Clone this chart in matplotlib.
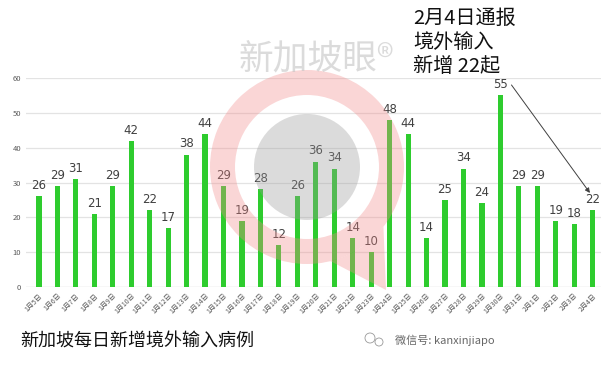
import matplotlib
matplotlib.use("Agg")
import matplotlib.pyplot as plt
import numpy as np
from matplotlib.patches import Wedge, Circle, Polygon

plt.rcParams['font.family'] = ['Noto Sans CJK SC', 'DejaVu Sans']

dates = ['1月5日', '1月6日', '1月7日', '1月8日', '1月9日', '1月10日', '1月11日',
         '1月12日', '1月13日', '1月14日', '1月15日', '1月16日', '1月17日', '1月18日',
         '1月19日', '1月20日', '1月21日', '1月22日', '1月23日', '1月24日', '1月25日',
         '1月26日', '1月27日', '1月28日', '1月29日', '1月30日', '1月31日', '2月1日',
         '2月2日', '2月3日', '2月4日']
cases = [26, 29, 31, 21, 29, 42, 22, 17, 38, 44, 29, 19, 28, 12, 26, 36,
         34, 14, 10, 48, 44, 14, 25, 34, 24, 55, 29, 29, 19, 18, 22]
yticks = [0, 10, 20, 30, 40, 50, 60]

W, H = 605, 365
fig = plt.figure(figsize=(W / 100, H / 100), dpi=100)
# axes box in pixels: left 26, right 601, top 78 (y=60), bottom 287 (y=0)
ax = fig.add_axes([26 / W, 1 - 287 / H, (601 - 26) / W, (287 - 78) / H])

x = np.arange(len(dates))
ax.bar(x, cases, width=0.28, color='#2ecc2e', zorder=2)
for xi, v in zip(x, cases):
    ax.text(xi, v + 1.2, str(v), ha='center', va='bottom', fontsize=8.5,
            color='#404040', family=['DejaVu Sans'])

ax.set_xlim(-0.7, 30.45)
ax.set_ylim(0, 60)
ax.set_yticks(yticks)
ax.set_yticklabels([str(t) for t in yticks], fontsize=5.5, color='#595959')
ax.set_xticks(x)
ax.set_xticklabels(dates, rotation=45, ha='right', rotation_mode='anchor',
                   fontsize=5, color='#595959')
ax.tick_params(length=0, pad=3.5)
ax.grid(axis='y', color='#e3e3e3', linewidth=0.9, zorder=0)
for s in ax.spines.values():
    s.set_visible(False)
ax.axhline(0, color='#d9d9d9', linewidth=0.9, zorder=1)

ax.annotate('', xy=(29.85, 27.0), xytext=(25.6, 58.0),
            arrowprops=dict(arrowstyle='-|>', color='#404040', lw=0.7,
                            mutation_scale=7, shrinkA=0, shrinkB=0),
            annotation_clip=False)

fig.text(413 / W, 1 - 18 / H, '2月4日通报', fontsize=14.5, va='center', color='#111111')
fig.text(413 / W, 1 - 43 / H, '境外输入', fontsize=14.5, va='center', color='#111111')
fig.text(413 / W, 1 - 67 / H, '新增 22起', fontsize=14.5, va='center', color='#111111')

fig.text(20 / W, 1 - 342 / H, '新加坡每日新增境外输入病例', fontsize=13, va='center',
         color='#111111')
fig.text(395 / W, 1 - 340 / H, '微信号: kanxinjiapo', fontsize=8, va='center',
         color='#666666')

# watermark overlay
ov = fig.add_axes([0, 0, 1, 1], zorder=5)
ov.set_xlim(0, W)
ov.set_ylim(H, 0)
ov.axis('off')
cx, cy, r = 307, 167, 97
ov.add_patch(Wedge((cx, cy), r, 0, 360, width=25, color='#f28a8a', alpha=0.35,
                   linewidth=0))
th = np.radians(np.linspace(38, 76, 20))
tail = [(cx + r * np.cos(t), cy + r * np.sin(t)) for t in th] + [(386, 290)]
ov.add_patch(Polygon(tail, closed=True, color='#f28a8a', alpha=0.35, linewidth=0))
ov.add_patch(Circle((cx, cy), 53, color='#9a9a9a', alpha=0.35, linewidth=0))
ov.text(316, 60, '新加坡眼®', fontsize=25, ha='center', va='center',
        color='#c4c4c4', alpha=0.6)
ov.add_patch(Circle((370, 338), 5, fill=False, edgecolor='#999999', lw=0.6))
ov.add_patch(Circle((379, 342), 4, fill=False, edgecolor='#999999', lw=0.6))

fig.savefig('out.png', dpi=100)
